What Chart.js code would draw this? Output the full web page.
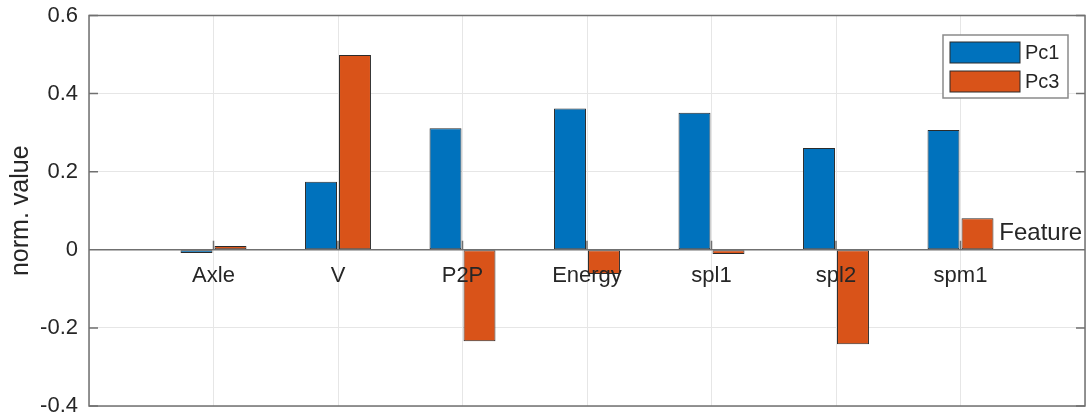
<!DOCTYPE html>
<html>
<head>
<meta charset="utf-8">
<script src="https://cdn.jsdelivr.net/npm/chart.js@4"></script>
<style>
  html, body { margin: 0; padding: 0; background: #fff; }
</style>
</head>
<body>
<canvas id="chart" width="1087" height="419"></canvas>
<script>
// Chart data
var categories = ['Axle', 'V', 'P2P', 'Energy', 'spl1', 'spl2', 'spm1'];
var pc1Values = [-0.008, 0.174, 0.311, 0.362, 0.351, 0.261, 0.307];
var pc3Values = [0.010, 0.499, -0.234, -0.062, -0.011, -0.242, 0.081];
var seriesNames = ['Pc1', 'Pc3'];
var yTicks = [-0.4, -0.2, 0, 0.2, 0.4, 0.6];
var xTitle = 'Feature';
var yTitle = 'norm. value';

var FONT = '"Liberation Sans", Arial, Helvetica, sans-serif';
var TEXT = '#262626';
var FRAME = '#707070';
var GRID = '#e6e6e6';

// empty slot on each side, like the matlab axis limits 0..8
var labels = [''].concat(categories, ['']);
function pad(arr) { return [null].concat(arr, [null]); }

// frame, inner ticks, legend and the x label
var decorations = {
    id: 'decorations',
    afterDatasetsDraw: function(chart) {
        var ctx = chart.ctx;
        var area = chart.chartArea;
        var ys = chart.scales.y;
        var xs = chart.scales.x;
        var zeroY = ys.getPixelForValue(0);

        ctx.save();
        ctx.strokeStyle = FRAME;
        ctx.lineWidth = 1.5;
        ctx.strokeRect(area.left, area.top, area.right - area.left, area.bottom - area.top);

        ctx.beginPath();
        ctx.moveTo(area.left, zeroY); ctx.lineTo(area.right, zeroY);
        yTicks.forEach(function(v) {
            var py = ys.getPixelForValue(v);
            ctx.moveTo(area.left, py); ctx.lineTo(area.left + 9, py);
            ctx.moveTo(area.right, py); ctx.lineTo(area.right - 9, py);
        });
        categories.forEach(function(c, i) {
            var px = xs.getPixelForValue(i + 1);
            ctx.moveTo(px, zeroY); ctx.lineTo(px, zeroY - 9);
        });
        ctx.stroke();
        ctx.restore();
    },
    afterDraw: function(chart) {
        var ctx = chart.ctx;
        var area = chart.chartArea;
        var zeroY = chart.scales.y.getPixelForValue(0);

        ctx.save();
        // x label sits at the right end of the zero axis
        ctx.fillStyle = TEXT;
        ctx.font = '24px ' + FONT;
        ctx.textAlign = 'right';
        ctx.textBaseline = 'alphabetic';
        ctx.fillText(xTitle, area.right - 3, zeroY - 10);

        // legend box
        var bw = 125, bh = 63;
        var bx = area.right - 17 - bw;
        var by = area.top + 19.5;
        ctx.fillStyle = '#fff';
        ctx.fillRect(bx, by, bw, bh);
        ctx.strokeStyle = '#8a8a8a';
        ctx.lineWidth = 1.5;
        ctx.strokeRect(bx, by, bw, bh);

        ctx.font = '20px ' + FONT;
        ctx.textAlign = 'left';
        ctx.textBaseline = 'middle';
        chart.data.datasets.forEach(function(ds, i) {
            var sy = by + 7 + i * 29;
            ctx.fillStyle = ds.backgroundColor;
            ctx.fillRect(bx + 7, sy, 70, 21);
            ctx.strokeStyle = '#2b2b2b';
            ctx.lineWidth = 1;
            ctx.strokeRect(bx + 7, sy, 70, 21);
            ctx.fillStyle = TEXT;
            ctx.fillText(ds.label, bx + 82, sy + 11);
        });
        ctx.restore();
    }
};

var ctx = document.getElementById('chart').getContext('2d');
new Chart(ctx, {
    type: 'bar',
    data: {
        labels: labels,
        datasets: [{
            label: seriesNames[0],
            data: pad(pc1Values),
            backgroundColor: '#0072BD',
            borderColor: '#2b2b2b',
            borderWidth: 1,
            borderSkipped: false
        }, {
            label: seriesNames[1],
            data: pad(pc3Values),
            backgroundColor: '#D95319',
            borderColor: '#2b2b2b',
            borderWidth: 1,
            borderSkipped: false
        }]
    },
    options: {
        responsive: false,
        animation: false,
        layout: { padding: { top: 15.5, right: 2, bottom: 13, left: 0 } },
        datasets: {
            bar: { categoryPercentage: 0.546, barPercentage: 0.94 }
        },
        plugins: {
            legend: { display: false },
            tooltip: { enabled: false }
        },
        scales: {
            x: {
                position: { y: 0 },
                offset: false,
                afterFit: function(scale) { scale.paddingLeft = 0; scale.paddingRight = 0; },
                grid: { color: GRID, lineWidth: 1, drawTicks: false, offset: false },
                border: { display: false },
                ticks: {
                    z: 1, // labels over the bars
                    color: TEXT,
                    font: { family: FONT, size: 22 },
                    padding: 13,
                    autoSkip: false,
                    maxRotation: 0
                }
            },
            y: {
                min: -0.4,
                max: 0.6,
                afterBuildTicks: function(scale) {
                    scale.ticks = yTicks.map(function(v) { return { value: v }; });
                },
                afterFit: function(scale) {
                    scale.width = 89;
                    scale.paddingTop = 0;
                    scale.paddingBottom = 0;
                },
                grid: { color: GRID, lineWidth: 1, drawTicks: false },
                border: { display: false },
                ticks: {
                    color: TEXT,
                    font: { family: FONT, size: 22 },
                    padding: 11,
                    callback: function(v) { return String(Number(v.toFixed(1))); }
                },
                title: {
                    display: true,
                    text: yTitle,
                    color: TEXT,
                    font: { family: FONT, size: 25 },
                    padding: { top: 6, bottom: 0 }
                }
            }
        }
    },
    plugins: [decorations]
});
</script>
</body>
</html>
